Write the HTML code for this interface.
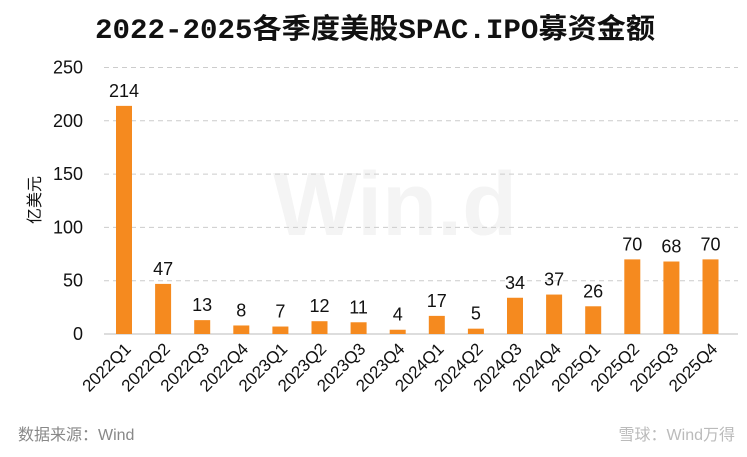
<!DOCTYPE html>
<html><head><meta charset="utf-8"><style>
body{margin:0;background:#fff;}
svg text{font-family:"Liberation Sans","Noto Sans CJK SC",sans-serif;}
</style></head><body>
<svg id="chart" width="747" height="452" viewBox="0 0 747 452" xmlns="http://www.w3.org/2000/svg">
<text x="95" y="38" textLength="560" lengthAdjust="spacingAndGlyphs" font-size="28" font-weight="bold" fill="#111" style="font-family:'Liberation Mono','Noto Sans CJK SC',monospace">2022-2025各季度美股SPAC.IPO募资金额</text>
<text x="395" y="235" text-anchor="middle" font-size="90" font-weight="bold" fill="#f4f4f4">Win.d</text>
<g id="grid"></g><g id="bars"></g><g id="labels"></g>
<text transform="translate(40,200) rotate(-90)" text-anchor="middle" font-size="16" fill="#111">亿美元</text>
<text x="18" y="440" font-size="16" fill="#888">数据来源：Wind</text>
<text x="735" y="440" text-anchor="end" font-size="16" fill="#bbb">雪球：Wind万得</text>
</svg>
<script>
const categories=["2022Q1","2022Q2","2022Q3","2022Q4","2023Q1","2023Q2","2023Q3","2023Q4","2024Q1","2024Q2","2024Q3","2024Q4","2025Q1","2025Q2","2025Q3","2025Q4"];
const values=[214,47,13,8,7,12,11,4,17,5,34,37,26,70,68,70];
const yTicks=[0,50,100,150,200,250];
const NS="http://www.w3.org/2000/svg";
const x0=104,x1=738,yBase=334,yTop=67.5,yMax=250;
const y=v=>yBase-(yBase-yTop)*v/yMax;
const step=39.1,first=124;
const xc=i=>first+i*step;
function mk(tag,attrs,parent,txt){const e=document.createElementNS(NS,tag);for(const k in attrs)e.setAttribute(k,attrs[k]);if(txt!==undefined)e.textContent=txt;document.getElementById(parent).appendChild(e);return e;}
yTicks.forEach(t=>{
  const l=mk('line',{x1:x0,x2:x1,y1:y(t),y2:y(t),stroke:t===0?'#bbb':'#ccc','stroke-dasharray':t===0?'':'5,4'},'grid');
  
  
  const tx=mk('text',{x:83,y:y(t)+6,'text-anchor':'end','font-size':18,fill:'#111'},'grid',String(t));
  
  
});
values.forEach((v,i)=>{
  const r=mk('rect',{x:xc(i)-8,y:y(v),width:16,height:yBase-y(v),fill:'#f58a1f'},'bars');
  
  
  const vl=mk('text',{x:xc(i),y:y(v)-9,'text-anchor':'middle','font-size':18,fill:'#111'},'labels',String(v));
  
  
  const cl=mk('text',{transform:`translate(${xc(i)+8},${yBase+16}) rotate(-45)`,'text-anchor':'end','font-size':17,fill:'#111'},'labels',categories[i]);
  
  
});
</script>
</body></html>
